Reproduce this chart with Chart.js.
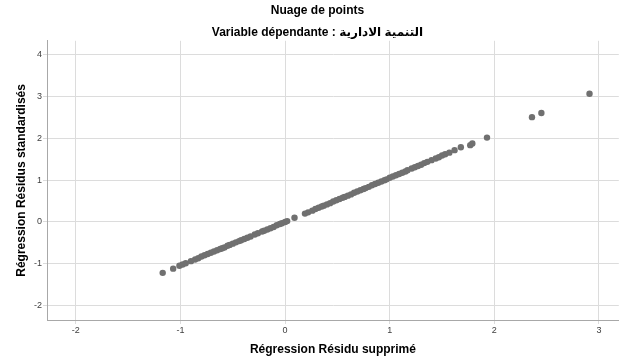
<!DOCTYPE html>
<html lang="fr">
<head>
<meta charset="utf-8">
<title>Nuage de points</title>
<script src="https://cdn.jsdelivr.net/npm/chart.js@4.4.1/dist/chart.umd.min.js"></script>
<style>
    html, body { margin: 0; padding: 0; background: #fff; }
    #zone { width: 622px; height: 361px; }
</style>
</head>
<body>
<div id="zone"><canvas id="nuage" width="622" height="361"></canvas></div>
<script>
// Données
const titre = 'Nuage de points';
const sousTitre = 'Variable dépendante : التنمية الادارية';
const titreX = 'Régression Résidu supprimé';
const titreY = 'Régression Résidus standardisés';

const ticksX = [-2, -1, 0, 1, 2, 3];
const ticksY = [-2, -1, 0, 1, 2, 3, 4];

// Résidus supprimés (axe X)
const residusSupprimes = [
    -1.17, -1.07, -1.01, -0.98, -0.95, -0.90, -0.86, -0.83, -0.80, -0.77,
    -0.74, -0.71, -0.68, -0.65, -0.62, -0.60, -0.58, -0.55, -0.53, -0.50,
    -0.47, -0.44, -0.42, -0.39, -0.36, -0.33, -0.29, -0.26, -0.22, -0.20,
    -0.17, -0.14, -0.11, -0.08, -0.05, -0.03,
    0.00, 0.02, 0.09, 0.19, 0.22, 0.26, 0.29, 0.32, 0.35, 0.37,
    0.40, 0.43, 0.46, 0.49, 0.52, 0.55, 0.57, 0.60, 0.63, 0.66,
    0.69, 0.72, 0.75, 0.77, 0.80, 0.83, 0.86, 0.89, 0.92, 0.95,
    0.97, 1.00, 1.03, 1.06, 1.09, 1.12, 1.15, 1.17, 1.21, 1.24,
    1.27, 1.30, 1.33, 1.36, 1.40, 1.44, 1.47, 1.50, 1.53, 1.57,
    1.62, 1.68, 1.77, 1.79, 1.93, 2.36, 2.45, 2.91
];

// Résidus standardisés (axe Y)
const residusStandardises = [
    -1.22, -1.12, -1.05, -1.02, -0.99, -0.94, -0.90, -0.87, -0.83, -0.80,
    -0.77, -0.74, -0.71, -0.68, -0.65, -0.63, -0.61, -0.57, -0.55, -0.52,
    -0.49, -0.46, -0.44, -0.41, -0.38, -0.35, -0.30, -0.27, -0.23, -0.21,
    -0.18, -0.15, -0.12, -0.08, -0.05, -0.03,
    0.00, 0.02, 0.10, 0.20, 0.23, 0.27, 0.31, 0.34, 0.37, 0.39,
    0.42, 0.45, 0.49, 0.52, 0.55, 0.58, 0.60, 0.63, 0.66, 0.70,
    0.73, 0.76, 0.79, 0.81, 0.84, 0.88, 0.91, 0.94, 0.97, 1.00,
    1.02, 1.06, 1.09, 1.12, 1.15, 1.18, 1.21, 1.24, 1.28, 1.31,
    1.34, 1.37, 1.41, 1.44, 1.48, 1.52, 1.55, 1.59, 1.62, 1.66,
    1.72, 1.79, 1.84, 1.88, 2.02, 2.51, 2.61, 3.07
];

const police = "'Liberation Sans', Arial, 'DejaVu Sans', sans-serif";
const couleurPoints = '#707070';
const couleurGrille = '#dcdcdc';
const couleurAxe = '#a8a8a8';

const points = residusSupprimes.map((x, i) => ({ x: x, y: residusStandardises[i] }));

new Chart(document.getElementById('nuage'), {
    type: 'scatter',
    data: {
        datasets: [{
            data: points,
            backgroundColor: couleurPoints,
            borderColor: couleurPoints,
            borderWidth: 0,
            pointRadius: 3.2,
            pointHoverRadius: 3.2
        }]
    },
    options: {
        responsive: false,
        animation: false,
        layout: { padding: { left: 14, right: 1, top: 0, bottom: 0 } },
        plugins: {
            legend: { display: false },
            tooltip: { enabled: false },
            title: {
                display: true,
                text: titre,
                color: '#000',
                font: { family: police, size: 12, weight: 'bold' },
                padding: { top: 3, bottom: 8 }
            },
            subtitle: {
                display: true,
                text: sousTitre,
                color: '#000',
                font: { family: police, size: 12, weight: 'bold' },
                padding: { top: 0, bottom: 1 }
            }
        },
        scales: {
            x: {
                type: 'linear',
                min: -2.276,
                max: 3.19,
                afterFit: s => { s.height = 41; },
                afterBuildTicks: s => { s.ticks = ticksX.map(v => ({ value: v })); },
                ticks: {
                    includeBounds: false,
                    color: '#404040',
                    font: { family: police, size: 9 },
                    padding: 1,
                    maxRotation: 0
                },
                grid: { color: couleurGrille, tickLength: 4, drawTicks: true },
                border: { color: couleurAxe, width: 1 },
                title: {
                    display: true,
                    text: titreX,
                    color: '#000',
                    font: { family: police, size: 12, weight: 'bold' },
                    padding: { top: 0, bottom: 4 }
                }
            },
            y: {
                type: 'linear',
                min: -2.35,
                max: 4.34,
                afterFit: s => { s.width = 33; },
                afterBuildTicks: s => { s.ticks = ticksY.map(v => ({ value: v })); },
                ticks: {
                    includeBounds: false,
                    color: '#404040',
                    font: { family: police, size: 9 },
                    padding: 1
                },
                grid: { color: couleurGrille, tickLength: 4, drawTicks: true },
                border: { color: couleurAxe, width: 1 },
                title: {
                    display: true,
                    text: titreY,
                    color: '#000',
                    font: { family: police, size: 12, weight: 'bold' },
                    padding: { top: 0, bottom: 0 }
                }
            }
        }
    }
});
</script>
</body>
</html>
